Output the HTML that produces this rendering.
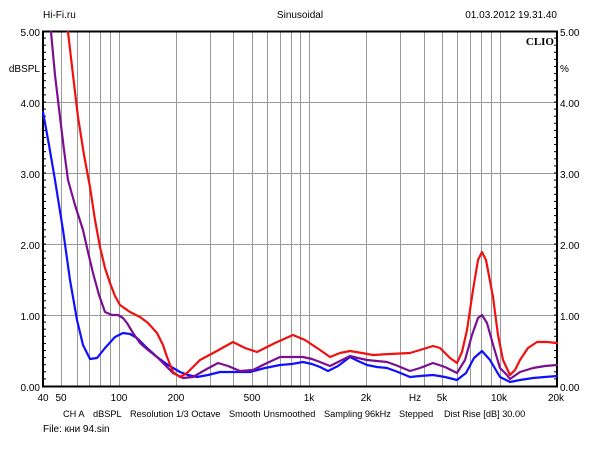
<!DOCTYPE html>
<html><head><meta charset="utf-8"><style>
body{margin:0;background:#fff}
svg text{font-family:"Liberation Sans","DejaVu Sans",sans-serif;font-size:10px;fill:#000}
svg text.b{font-size:9.2px}
</style></head><body>
<svg width="600" height="450" xmlns="http://www.w3.org/2000/svg">
<rect width="600" height="450" fill="#fff"/>
<g id="grid" stroke="#999" stroke-width="1"></g>
<g id="ticks" stroke="#000" stroke-width="1"></g>
<text x="43" y="18">Hi-Fi.ru</text>
<text x="300" y="18" text-anchor="middle">Sinusoidal</text>
<text x="557" y="18" text-anchor="end">01.03.2012 19.31.40</text>
<text x="40" y="36" text-anchor="end">5.00</text>
<text x="40" y="72" text-anchor="end">dBSPL</text>
<text x="40" y="107" text-anchor="end">4.00</text>
<text x="40" y="178" text-anchor="end">3.00</text>
<text x="40" y="249" text-anchor="end">2.00</text>
<text x="40" y="320" text-anchor="end">1.00</text>
<text x="40" y="391" text-anchor="end">0.00</text>
<text x="560" y="36">5.00</text>
<text x="560" y="72">%</text>
<text x="560" y="107">4.00</text>
<text x="560" y="178">3.00</text>
<text x="560" y="249">2.00</text>
<text x="560" y="320">1.00</text>
<text x="560" y="391">0.00</text>
<text x="554" y="45" text-anchor="end" style="font-family:'Liberation Serif',serif;font-weight:bold;font-size:11px">CLIO</text>
<g text-anchor="middle">
<text x="43" y="401">40</text><text x="61" y="401">50</text><text x="119" y="401">100</text><text x="176" y="401">200</text><text x="252" y="401">500</text><text x="309" y="401">1k</text><text x="366" y="401">2k</text><text x="415" y="401">Hz</text><text x="442" y="401">5k</text><text x="499" y="401">10k</text><text x="556" y="401">20k</text>
</g>
<text class="b" x="63" y="417">CH A</text>
<text class="b" x="93" y="417">dBSPL</text>
<text class="b" x="130" y="417">Resolution 1/3 Octave</text>
<text class="b" x="229" y="417">Smooth Unsmoothed</text>
<text class="b" x="324" y="417">Sampling 96kHz</text>
<text class="b" x="399" y="417">Stepped</text>
<text class="b" x="444" y="417">Dist Rise [dB] 30.00</text>
<text x="43" y="432">File: кни 94.sin</text>
<rect x="43" y="31.5" width="514" height="355" fill="none" stroke="#000" stroke-width="2"/>
<g fill="none" stroke-width="2.2" stroke-linejoin="round" stroke-linecap="round">
<path stroke="#1010ff" d="M43,112 L49,145 L55,180 L63,230 L70,280 L77,320 L83,345 L90,359 L97,358 L105,348 L115,337 L123,333 L130,334 L137,338 L147,348 L157,357 L168,365 L180,372 L188,375 L197,377 L208,375 L220,372 L235,372 L250,372 L265,368 L280,365 L292,364 L303,362 L312,364 L320,367 L328,371 L338,366 L350,357 L358,361 L367,365 L377,367 L387,368 L398,372 L410,377 L420,376 L433,375 L445,377 L457,380 L466,373 L474,358 L482,351 L490,360 L500,377 L510,382 L520,380 L533,378 L545,377 L557,376"/>
<path stroke="#7a1090" d="M51,32 L55,75 L60,117 L64,150 L68,180 L75,205 L83,230 L88,252 L93,273 L99,295 L105,312 L112,315 L118,315 L123,318 L127,323 L133,333 L140,343 L148,350 L157,357 L165,365 L173,373 L183,378 L193,377 L205,370 L218,363 L228,366 L240,371 L253,370 L265,364 L280,357 L292,357 L303,357 L312,359 L320,362 L330,366 L340,361 L350,356 L358,358 L367,360 L377,361 L387,362 L398,366 L410,371 L420,368 L433,363 L445,367 L457,373 L465,360 L472,335 L478,318 L482,315 L487,323 L494,348 L500,368 L507,375 L510,379 L520,372 L533,368 L545,366 L557,365"/>
<path stroke="#f01010" d="M68,32 L73,75 L78,117 L84,155 L90,187 L95,220 L100,247 L105,268 L110,283 L115,296 L120,305 L130,312 L140,317 L148,323 L157,333 L163,345 L167,357 L173,372 L180,377 L187,373 L193,367 L200,360 L215,352 L233,342 L245,348 L257,352 L275,343 L293,335 L305,340 L320,350 L330,357 L340,353 L350,351 L362,353 L373,355 L390,354 L410,353 L420,350 L433,346 L440,348 L450,358 L457,363 L462,352 L467,330 L473,290 L478,260 L482,252 L486,260 L493,297 L498,335 L503,360 L510,375 L515,370 L520,360 L528,348 L537,342 L547,342 L557,343"/>
</g>
<script>
var g=document.getElementById('grid'),t=document.getElementById('ticks'),ns='http://www.w3.org/2000/svg';
function L(p,x1,y1,x2,y2){var l=document.createElementNS(ns,'line');l.setAttribute('x1',x1);l.setAttribute('y1',y1);l.setAttribute('x2',x2);l.setAttribute('y2',y2);p.appendChild(l);}
var fs=[50,60,70,80,90,100,200,300,400,500,600,700,800,900,1000,2000,3000,4000,5000,6000,7000,8000,9000,10000];
fs.forEach(function(f){var x=43+190.4*Math.log10(f/40);x=Math.round(x)+0.5;L(g,x,32,x,386);});
[1,2,3,4].forEach(function(v){var y=Math.round(386-71*v)+0.5;L(g,43,y,557,y);});
for(var i=1;i<50;i++){var y=386-7.1*i;L(t,43,y,46,y);L(t,554,y,557,y);}
</script>
</svg>
</body></html>
